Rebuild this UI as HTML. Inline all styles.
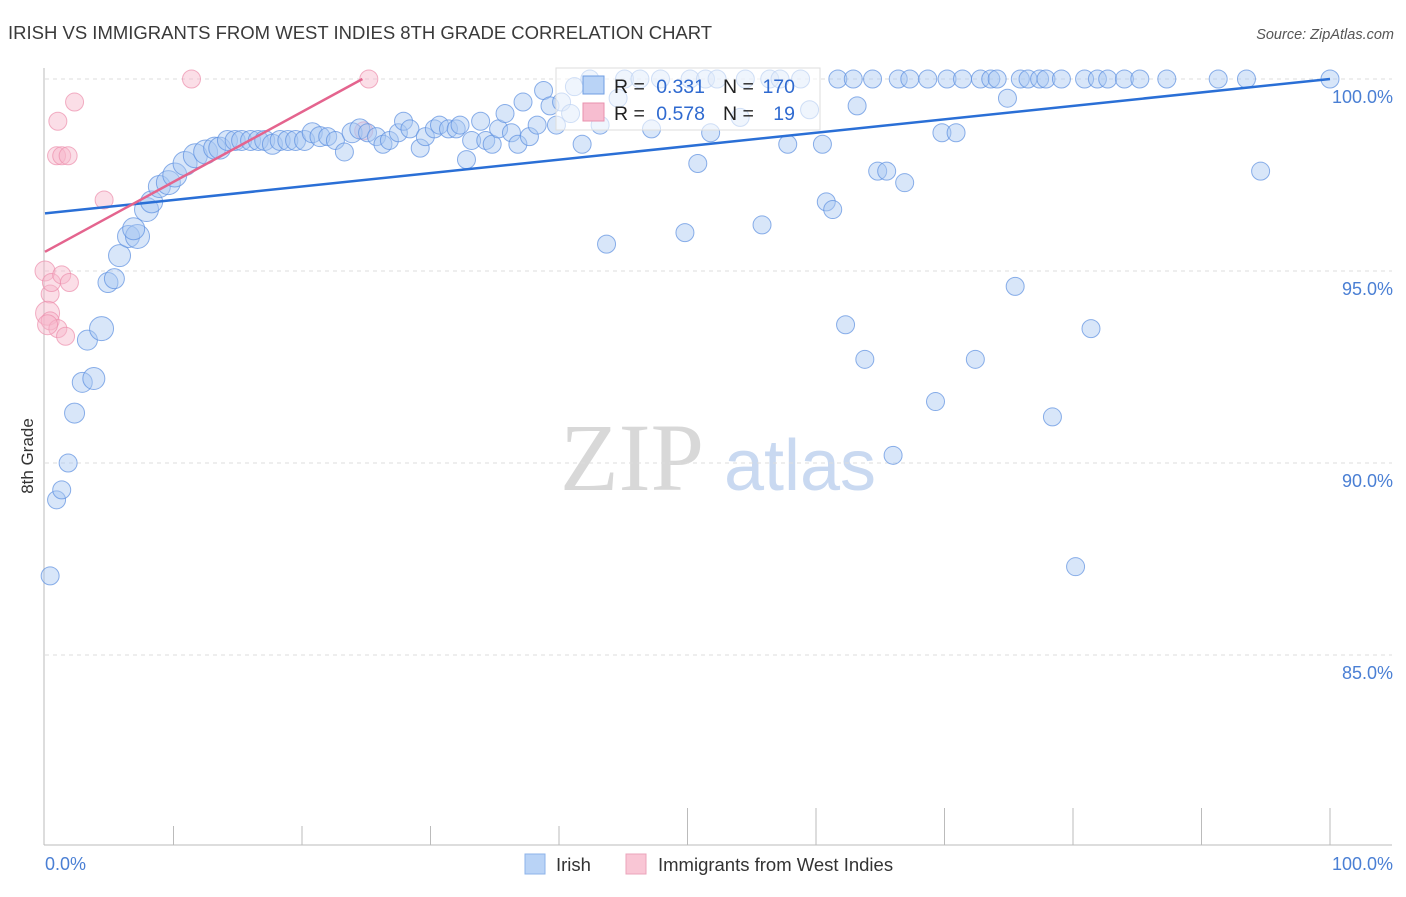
<!DOCTYPE html>
<html><head><meta charset="utf-8">
<style>
body{margin:0;background:#fff;font-family:"Liberation Sans",sans-serif;}
svg text{font-family:"Liberation Sans",sans-serif;}
</style></head>
<body>
<svg id="chart" width="1406" height="892" xmlns="http://www.w3.org/2000/svg">
<text x="8" y="39" font-size="18.5" fill="#3a3a3a">IRISH VS IMMIGRANTS FROM WEST INDIES 8TH GRADE CORRELATION CHART</text>
<text x="1394" y="39" font-size="14.5" fill="#555" font-style="italic" text-anchor="end">Source: ZipAtlas.com</text>
<text transform="translate(33,456) rotate(-90)" font-size="17" fill="#333" text-anchor="middle">8th Grade</text>
<g>
<text x="632" y="490" font-size="96" fill="#d8d8d8" text-anchor="middle" style="font-family:'Liberation Serif',serif">ZIP</text>
<text x="800" y="490" font-size="72" fill="#c9d9f1" text-anchor="middle">atlas</text>
</g>
<g id="grid"></g>
<g id="axes"></g>
<g id="pinkpts"></g>
<g id="bluepts"></g>
<g id="lines"></g>
<g>
<rect x="556" y="68" width="264" height="62" fill="#fff" fill-opacity="0.6" stroke="#ddd"/>
<rect x="583" y="76" width="21" height="18" fill="#b9d3f6" stroke="#6f9ee3"/>
<rect x="583" y="103" width="21" height="18" fill="#f7bdd0" stroke="#e891ae"/>
<text x="614" y="93" font-size="19.5" fill="#222">R =</text>
<text x="705" y="93" font-size="19.5" fill="#2f6ad0" text-anchor="end">0.331</text>
<text x="723" y="93" font-size="19.5" fill="#222">N =</text>
<text x="795" y="93" font-size="19.5" fill="#2f6ad0" text-anchor="end">170</text>
<text x="614" y="120" font-size="19.5" fill="#222">R =</text>
<text x="705" y="120" font-size="19.5" fill="#2f6ad0" text-anchor="end">0.578</text>
<text x="723" y="120" font-size="19.5" fill="#222">N =</text>
<text x="795" y="120" font-size="19.5" fill="#2f6ad0" text-anchor="end">19</text>
</g>
<g>
<rect x="525" y="854" width="20" height="20" fill="#b9d3f6" stroke="#8db3ea"/>
<text x="556" y="871" font-size="18.5" fill="#333">Irish</text>
<rect x="626" y="854" width="20" height="20" fill="#f9c6d5" stroke="#eba4bb"/>
<text x="658" y="871" font-size="18.5" fill="#333">Immigrants from West Indies</text>
</g>
</svg>
<script>
const yTicks=[100,95,90,85];
const yTickLabels=["100.0%","95.0%","90.0%","85.0%"];
const xTickLabels=["0.0%","100.0%"];
const blueX=[0.4,0.9,1.3,1.8,2.3,2.9,3.8,3.3,4.4,4.9,5.4,5.8,6.5,7.2,6.9,7.9,8.3,8.9,9.6,10.1,10.9,11.7,12.5,13.2,13.6,14.2,14.8,15.3,16.0,16.6,17.1,17.7,18.3,18.9,19.5,20.2,20.8,21.4,22.0,22.6,23.3,23.9,24.5,25.1,25.8,26.3,26.8,27.5,27.9,28.4,29.2,29.6,30.3,30.7,31.4,32.0,32.3,32.8,33.2,33.9,34.3,34.8,35.3,35.8,36.3,36.8,37.2,37.7,38.3,38.8,39.3,39.8,40.2,40.9,41.2,41.8,42.4,43.2,43.7,44.6,45.1,46.3,47.2,47.9,49.8,50.2,50.8,51.4,51.8,52.3,54.1,54.5,55.8,56.4,57.2,57.8,58.8,59.5,60.5,60.8,61.3,61.7,62.3,62.9,63.2,63.8,64.4,64.8,65.5,66.0,66.4,66.9,67.3,68.7,69.3,69.8,70.2,70.9,71.4,72.4,72.8,73.6,74.1,74.9,75.5,75.9,76.5,77.4,77.9,78.4,79.1,80.2,80.9,81.4,81.9,82.7,84.0,85.2,87.3,91.3,93.5,94.6,100];
const blueY=[87.06,89.04,89.3,90.0,91.3,92.1,92.2,93.2,93.5,94.7,94.8,95.4,95.9,95.9,96.1,96.6,96.8,97.2,97.3,97.5,97.8,98.0,98.1,98.2,98.2,98.4,98.4,98.4,98.4,98.4,98.4,98.3,98.4,98.4,98.4,98.4,98.6,98.5,98.5,98.4,98.1,98.6,98.7,98.6,98.5,98.3,98.4,98.6,98.9,98.7,98.2,98.5,98.7,98.8,98.7,98.7,98.8,97.9,98.4,98.9,98.4,98.3,98.7,99.1,98.6,98.3,99.4,98.5,98.8,99.7,99.3,98.8,99.4,99.1,99.8,98.3,100,98.8,95.7,99.5,100,100,98.7,100,96.0,100,97.8,100,98.6,100,99.0,100,96.2,100,100,98.3,100,99.2,98.3,96.8,96.6,100,93.6,100,99.3,92.7,100,97.6,97.6,90.2,100,97.3,100,100,91.6,98.6,100,98.6,100,92.7,100,100,100,99.5,94.6,100,100,100,100,91.2,100,87.3,100,93.5,100,100,100,100,100,100,100,97.6,100];
const blueR=[9,9,9,9,10,10,11,10,12,10,10,11,11,12,11,12,11,11,12,12,12,12,12,11,11,10,10,10,10,10,10,10,10,10,10,10,10,10,9,9,9,10,10,9,9,9,9,9];
const pinkX=[0,0.4,0.5,1.3,1.9,0.2,0.4,1,1.6,1,2.3,0.9,1.3,1.8,4.6,11.4,25.2,24.8,0.2];
const pinkY=[95.0,94.4,94.7,94.9,94.7,93.9,93.7,93.5,93.3,98.9,99.4,98.0,98.0,98.0,96.85,100,100,98.65,93.6];
const pinkR=[10,9,9,9,9,12,9,9,9,9,9,9,9,9,9,9,9,9,10];
const blueLine=[96.5,100];
const pinkLine=[95.5,100,24.7];
const NS="http://www.w3.org/2000/svg";
const xs=v=>45+v*12.85;
const ys=v=>79+(100-v)*38.4;
function mk(tag,attrs,parent){const e=document.createElementNS(NS,tag);for(const k in attrs)e.setAttribute(k,attrs[k]);parent.appendChild(e);return e;}
const grid=document.getElementById('grid');
yTicks.forEach((t,i)=>{
 const l=mk('line',{x1:45,x2:1392,y1:ys(t),y2:ys(t),stroke:'#ddd','stroke-dasharray':'4,4'},grid);
 
 
 const tx=mk('text',{x:1393,y:ys(t)+24,'font-size':18,fill:'#4a7fd4','text-anchor':'end'},grid);
 tx.textContent=yTickLabels[i];
 
 
});
const ax=document.getElementById('axes');
const yl=mk('line',{x1:44,x2:44,y1:68,y2:845,stroke:'#bbb'},ax);


const xl=mk('line',{x1:44,x2:1392,y1:845,y2:845,stroke:'#bbb'},ax);


for(let i=1;i<=10;i++){
 const x=xs(i*10);
 const tk=mk('line',{x1:x,x2:x,y1:i>=5?808:826,y2:845,stroke:'#bbb'},ax);
 
 
}
const x0=mk('text',{x:45,y:870,'font-size':18,fill:'#4a7fd4'},ax);x0.textContent=xTickLabels[0];


const x1=mk('text',{x:1393,y:870,'font-size':18,fill:'#4a7fd4','text-anchor':'end'},ax);x1.textContent=xTickLabels[1];


const pp=document.getElementById('pinkpts');
pinkX.forEach((v,i)=>{
 const c=mk('circle',{cx:xs(v),cy:ys(pinkY[i]),r:pinkR[i],fill:'#f7b6c9','fill-opacity':0.45,stroke:'#ec8eac','stroke-opacity':0.7},pp);
 
 
});
const bp=document.getElementById('bluepts');
blueX.forEach((v,i)=>{
 const c=mk('circle',{cx:xs(v),cy:ys(blueY[i]),r:blueR[i]||9,fill:'#a9c8f2','fill-opacity':0.45,stroke:'#5b8fdf','stroke-opacity':0.7},bp);
 
 
});
const lg=document.getElementById('lines');
const bl=mk('line',{x1:xs(0),y1:ys(blueLine[0]),x2:xs(100),y2:ys(blueLine[1]),stroke:'#2a6fd6','stroke-width':2.5},lg);


const pl=mk('line',{x1:xs(0),y1:ys(pinkLine[0]),x2:xs(pinkLine[2]),y2:ys(pinkLine[1]),stroke:'#e4648e','stroke-width':2.5},lg);


</script>
</body></html>
